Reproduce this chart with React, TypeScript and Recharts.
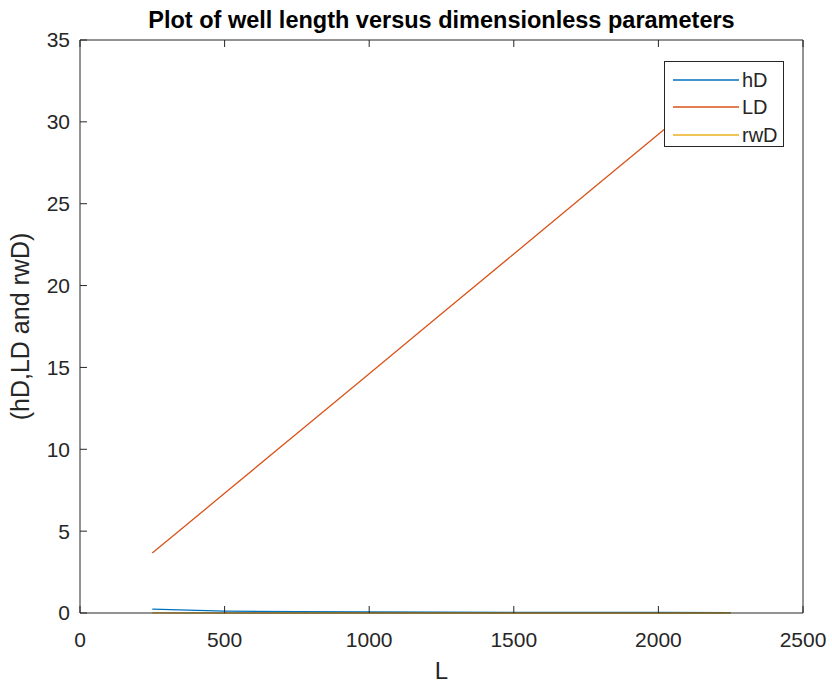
import React from "react";
import { LineChart, Line, XAxis, YAxis, Legend } from "recharts";

// Well length L and the dimensionless parameters computed for each length
const wellLength = [250, 500, 750, 1000, 1250, 1500, 1750, 2000, 2250];
const hD = [0.24, 0.12, 0.08, 0.06, 0.048, 0.04, 0.034, 0.03, 0.027];
const LD = [3.66, 7.31, 10.97, 14.62, 18.28, 21.93, 25.59, 29.24, 32.9];
const rwD = [0.0016, 0.0008, 0.00053, 0.0004, 0.00032, 0.00027, 0.00023, 0.0002, 0.00018];

const xTicks = [0, 500, 1000, 1500, 2000, 2500];
const yTicks = [0, 5, 10, 15, 20, 25, 30, 35];

const seriesNames = ["hD", "LD", "rwD"];
const seriesColors = ["#0072BD", "#D95319", "#EDB120"];

const rows = wellLength.map((L, i) => ({ L, hD: hD[i], LD: LD[i], rwD: rwD[i] }));

const FONT = '"Liberation Sans", Arial, Helvetica, sans-serif';
const AXIS = "#262626";

// Mirror axes on the top and right edges draw only their tick marks
const NoLabel = () => <g />;

function BoxLegend(props: any) {
  const payload = [...(props.payload || [])].sort(
    (a: any, b: any) => seriesNames.indexOf(a.value) - seriesNames.indexOf(b.value)
  );
  return (
    <div
      style={{
        background: "#fff",
        border: `1px solid ${AXIS}`,
        boxSizing: "border-box",
        width: 120,
        height: 86,
        padding: "4px 0 0 8px",
        fontFamily: FONT,
      }}
    >
      {payload.map((p: any) => (
        <div key={p.value} style={{ display: "flex", alignItems: "center", height: 27.5 }}>
          <svg width={66} height={4} style={{ display: "block" }}>
            <line x1={0} y1={2} x2={66} y2={2} stroke={p.color} strokeWidth={1.3} />
          </svg>
          <span style={{ fontSize: 20, color: AXIS, marginLeft: 3, lineHeight: "20px" }}>{p.value}</span>
        </div>
      ))}
    </div>
  );
}

export default function App() {
  return (
    <div style={{ position: "absolute", left: 0, top: 0, width: 832, height: 687, background: "#fff" }}>
      <LineChart
        width={832}
        height={687}
        data={rows}
        margin={{ top: 39, right: 28, left: 0, bottom: 0 }}
        style={{ fontFamily: FONT }}
      >
        <XAxis
          dataKey="L"
          type="number"
          domain={[0, 2500]}
          ticks={xTicks}
          height={74}
          stroke={AXIS}
          tickSize={-7}
          tickMargin={26}
          tick={{ fill: AXIS, fontSize: 21 }}
          label={{ value: "L", position: "insideBottom", offset: 8, fill: AXIS, fontSize: 24 }}
        />
        <XAxis
          xAxisId="top"
          orientation="top"
          dataKey="L"
          type="number"
          domain={[0, 2500]}
          ticks={xTicks}
          height={1}
          stroke={AXIS}
          tickSize={-7}
          tick={<NoLabel />}
          label={{
            value: "Plot of well length versus dimensionless parameters",
            position: "top",
            offset: 11,
            fill: "#000",
            fontSize: 23.5,
            fontWeight: "bold",
          }}
        />
        <YAxis
          type="number"
          domain={[0, 35]}
          ticks={yTicks}
          width={80}
          stroke={AXIS}
          tickSize={-7}
          tickMargin={17}
          tick={{ fill: AXIS, fontSize: 21 }}
          label={{
            value: "(hD,LD and rwD)",
            angle: -90,
            position: "insideLeft",
            offset: 20,
            style: { textAnchor: "middle" },
            fill: AXIS,
            fontSize: 25,
          }}
        />
        <YAxis
          yAxisId="right"
          orientation="right"
          type="number"
          domain={[0, 35]}
          ticks={yTicks}
          width={1}
          stroke={AXIS}
          tickSize={-7}
          tick={<NoLabel />}
        />
        <Legend
          layout="vertical"
          align="center"
          verticalAlign="middle"
          content={<BoxLegend />}
          wrapperStyle={{ top: 61, left: 664, width: 120, height: 86 }}
        />
        {seriesNames.map((name, i) => (
          <Line
            key={name}
            dataKey={name}
            name={name}
            type="linear"
            stroke={seriesColors[i]}
            strokeWidth={1.3}
            dot={false}
            isAnimationActive={false}
          />
        ))}
      </LineChart>
    </div>
  );
}
